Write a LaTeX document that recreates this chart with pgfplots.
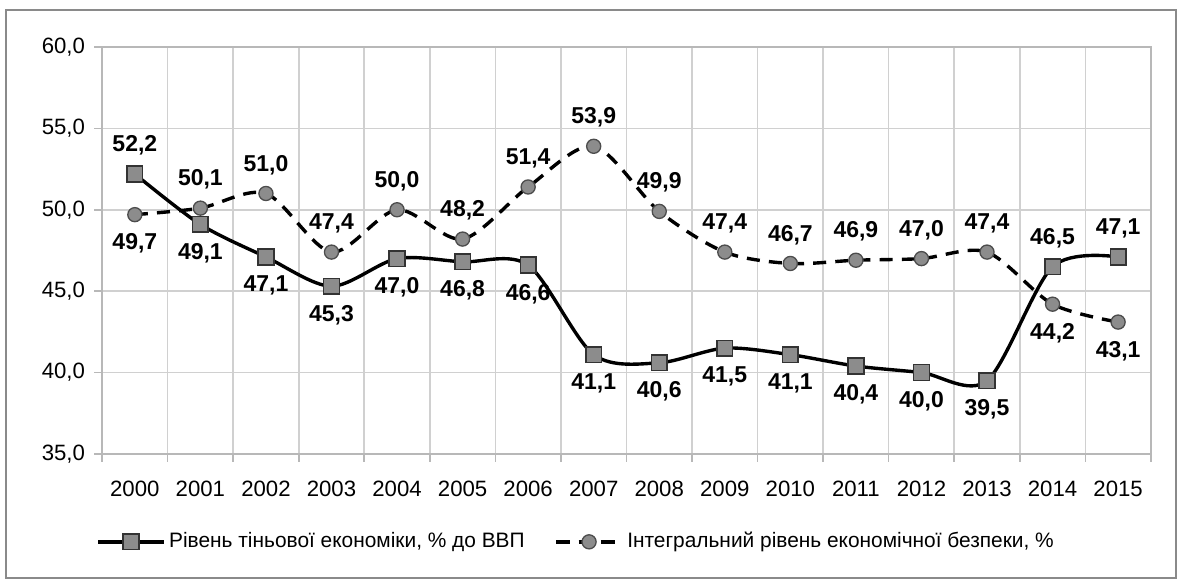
\documentclass[border=0pt]{standalone}
\usepackage{fontspec}
\setmainfont{Liberation Sans}
\usepackage{pgfplots}
\usepackage{pgfplotstable}
\pgfplotsset{compat=1.18}

\definecolor{gridgray}{HTML}{D0D0D0}
\definecolor{markgray}{HTML}{8C8C8C}
\definecolor{framegray}{HTML}{8A8A8A}

% y-position flag p: 1 = label above, -1 = label below
\pgfplotstableread{
x y p
0 52.2 1
1 49.1 -1
2 47.1 -1
3 45.3 -1
4 47.0 -1
5 46.8 -1
6 46.6 -1
7 41.1 -1
8 40.6 -1
9 41.5 -1
10 41.1 -1
11 40.4 -1
12 40.0 -1
13 39.5 -1
14 46.5 1
15 47.1 1
}\shadow

\pgfplotstableread{
x y p
0 49.7 -1
1 50.1 1
2 51.0 1
3 47.4 1
4 50.0 1
5 48.2 1
6 51.4 1
7 53.9 1
8 49.9 1
9 47.4 1
10 46.7 1
11 46.9 1
12 47.0 1
13 47.4 1
14 44.2 -1
15 43.1 -1
}\security

\begin{document}
\begin{tikzpicture}
\begin{axis}[
    scale only axis,
    width=401.8pt, height=155.9pt,
    xmin=-0.5, xmax=15.5,
    ymin=35, ymax=60,
    ytick={35,40,...,60},
    xtick={0,...,15},
    xticklabels={2000,2001,2002,2003,2004,2005,2006,2007,2008,2009,2010,2011,2012,2013,2014,2015},
    minor xtick={-0.5,0.5,...,15.5},
    xminorgrids, ymajorgrids,
    grid style={gridgray, line width=0.6pt},
    minor grid style={gridgray, line width=0.6pt},
    axis line style={gridgray!70!gray, line width=0.6pt},
    major x tick style={draw=none},
    minor x tick style={gridgray!70!gray, line width=0.6pt},
    y tick style={gridgray!70!gray, line width=0.6pt},
    tick align=outside,
    xtick pos=bottom, ytick pos=left,
    major tick length=3pt, minor tick length=3pt,
    tick label style={font=\fontsize{8.5}{10}\selectfont},
    yticklabel style={/pgf/number format/use comma, /pgf/number format/fixed,
        /pgf/number format/fixed zerofill, /pgf/number format/precision=1,
        /pgf/number format/assume math mode=true},
    xticklabel style={yshift=-4pt},
    legend columns=2,
    legend style={at={(0.453,-0.216)}, anchor=center, draw=none, fill=none,
        font=\fontsize{8}{10}\selectfont, column sep=0pt,
        nodes={inner xsep=1.5pt},
        /tikz/every even column/.append style={column sep=10pt}},
    legend image code/.code={
        \draw[mark repeat=2, mark phase=2, #1] plot coordinates {(0pt,0pt) (12.5pt,0pt) (25pt,0pt)};
    },
    nodes near coords={\pgfmathprintnumber{\pgfplotspointmeta}},
    every node near coord/.append style={
        font=\bfseries\fontsize{8.8}{10}\selectfont, text=black, anchor=center,
        /pgf/number format/use comma, /pgf/number format/fixed,
        /pgf/number format/fixed zerofill, /pgf/number format/precision=1,
        /pgf/number format/assume math mode=true},
]
\addplot[black, line width=1.3pt, smooth, tension=0.5,
    mark=square*, mark size=3pt, mark options={fill=markgray, draw=black!80, line width=0.6pt, solid},
    visualization depends on={\thisrow{p} \as \lp},
    every node near coord/.append style={yshift=\lp*11pt}]
    table[x=x, y=y] {\shadow};
\addlegendentry{Рівень тіньової економіки, \% до ВВП}

\addplot[black, line width=1.3pt, smooth, tension=0.5, dash pattern=on 5pt off 3.5pt,
    mark=*, mark size=2.7pt, mark options={fill=markgray, draw=black!70, line width=0.5pt, solid},
    visualization depends on={\thisrow{p} \as \lp},
    every node near coord/.append style={yshift=\lp*11pt}]
    table[x=x, y=y] {\security};
\addlegendentry{Інтегральний рівень економічної безпеки, \%}
\end{axis}
\path[use as bounding box] (-39.1pt,-50.9pt) rectangle (414.1pt,173.9pt);
\draw[framegray, line width=0.6pt] (-36.8pt,-47.5pt) rectangle (411.4pt,170.1pt);
\end{tikzpicture}
\end{document}
